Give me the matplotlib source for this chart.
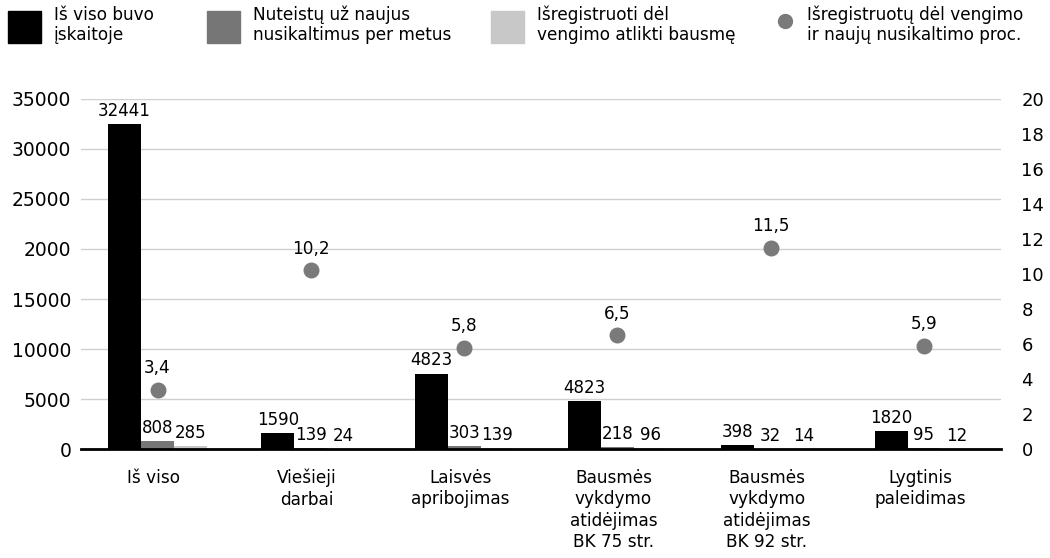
import numpy as np
import matplotlib
matplotlib.use('Agg')
import matplotlib.pyplot as plt
import matplotlib.transforms as mtransforms
from matplotlib.patches import Patch
from matplotlib.lines import Line2D

plt.rcParams['font.family'] = ['DejaVu Sans']

# duomenys
kategorijos = ['Iš viso', 'Viešieji\ndarbai', 'Laisvės\napribojimas',
               'Bausmės\nvykdymo\natidėjimas\nBK 75 str.',
               'Bausmės\nvykdymo\natidėjimas\nBK 92 str.',
               'Lygtinis\npaleidimas']
iskaitoje = [32441, 1590, 7550, 4823, 398, 1820]          # stulpelių aukščiai (kaip paveiksle)
iskaitoje_zymes = ['32441', '1590', '4823', '4823', '398', '1820']
nuteisti = [808, 139, 303, 218, 32, 95]
isregistruoti = [285, 24, 139, 96, 14, 12]
procentai = [3.4, 10.2, 5.8, 6.5, 11.5, 5.9]
proc_zymes = ['3,4', '10,2', '5,8', '6,5', '11,5', '5,9']

kaire_ticks = [0, 5000, 10000, 15000, 20000, 25000, 30000, 35000]
kaire_zymes = ['0', '5000', '10000', '15000', '2000', '25000', '30000', '35000']
desine_ticks = list(range(0, 21, 2))

serijos = ['Iš viso buvo\nįskaitoje', 'Nuteistų už naujus\nnusikaltimus per metus',
           'Išregistruoti dėl\nvengimo atlikti bausmę',
           'Išregistruotų dėl vengimo\nir naujų nusikaltimo proc.']
spalvos = ['#000000', '#767676', '#c8c8c8']
tasko_spalva = '#7a7a7a'

fs = 12.2
fig = plt.figure(figsize=(10.5, 5.58), dpi=100)
ax = fig.add_axes([0.077, 0.195, 0.876, 0.628])

x = np.arange(len(kategorijos))
w = 0.215
for i, (vals, c) in enumerate(zip([iskaitoje, nuteisti, isregistruoti], spalvos)):
    bars = ax.bar(x + (i - 1) * w, vals, w, color=c, zorder=2)
    zymes = iskaitoje_zymes if i == 0 else [str(v) for v in vals]
    for b, t in zip(bars, zymes):
        ax.annotate(t, (b.get_x() + b.get_width() / 2, b.get_height()),
                    xytext=(0, 3), textcoords='offset points',
                    ha='center', va='bottom', fontsize=12, zorder=5)

ax.set_xlim(-0.5, len(kategorijos) - 0.5)
ax.set_ylim(0, 35000)
ax.set_yticks(kaire_ticks)
ax.set_yticklabels(kaire_zymes)
ax.set_xticks(x)
ax.set_xticklabels(kategorijos, linespacing=1.25)
ax.tick_params(axis='y', length=0, pad=7, labelsize=13.5)
ax.tick_params(axis='x', length=0, pad=14, labelsize=fs)
off = mtransforms.ScaledTranslation(-4 / 100, 0, fig.dpi_scale_trans)
for lbl in ax.get_xticklabels():
    lbl.set_transform(lbl.get_transform() + off)
ax.grid(axis='y', color='#d0d0d0', lw=1)
ax.set_axisbelow(True)
for s in ['top', 'left', 'right']:
    ax.spines[s].set_visible(False)
ax.spines['bottom'].set_linewidth(2)
ax.spines['bottom'].set_zorder(4)

ax2 = ax.twinx()
ax2.scatter(x, procentai, s=110, color=tasko_spalva, zorder=3)
for xi, p, t in zip(x, procentai, proc_zymes):
    ax2.annotate(t, (xi, p), xytext=(0, 9), textcoords='offset points',
                 ha='center', va='bottom', fontsize=fs)
ax2.set_ylim(0, 20)
ax2.set_yticks(desine_ticks)
ax2.tick_params(axis='y', length=0, pad=15, labelsize=13)
for s in ax2.spines.values():
    s.set_visible(False)

# legenda: kiekvienas įrašas savo vietoje
handles = [Patch(color=c) for c in spalvos] + \
    [Line2D([], [], ls='', marker='o', ms=10, color=tasko_spalva)]
leg_x = [8, 207, 491, 776]
leg_len = [1.95, 1.95, 1.95, 1.06]
for h, lab, lx, hl in zip(handles, serijos, leg_x, leg_len):
    lg = fig.legend([h], [lab], loc='center left', bbox_to_anchor=(lx / 1050, 1 - 25 / 558),
                    frameon=False, fontsize=fs, handlelength=hl, handleheight=2.55,
                    handletextpad=0.75, borderpad=0, borderaxespad=0, labelspacing=0)
    for txt in lg.get_texts():
        txt.set_linespacing(1.15)

fig.savefig('out.png', dpi=100)
